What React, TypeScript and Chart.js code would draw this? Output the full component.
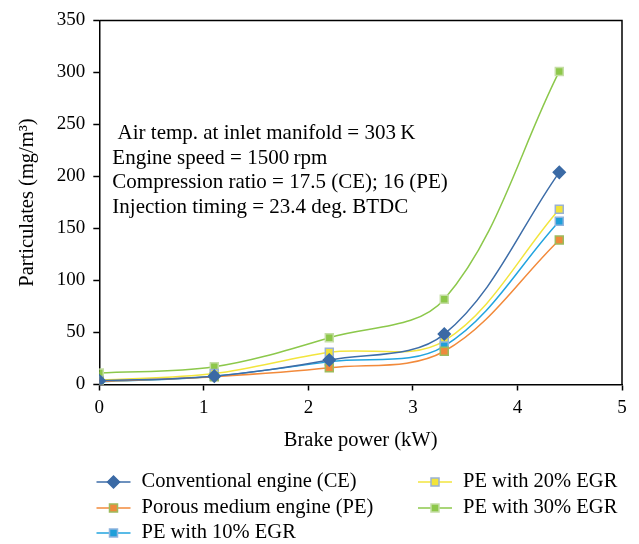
import React, { useEffect, useRef } from "react";
import { Chart, registerables } from "chart.js";

Chart.register(...registerables);

// ---- data ----
const brakePower = [0, 1.1, 2.2, 3.3, 4.4];
const seriesNames = [
  "Conventional engine (CE)",
  "Porous medium engine (PE)",
  "PE with 10% EGR",
  "PE with 20% EGR",
  "PE with 30% EGR",
];
const ceValues = [3.5, 8, 23.5, 48.5, 204];
const peValues = [3, 7.5, 16, 32, 139];
const egr10Values = [2.5, 8, 22, 37, 157];
const egr20Values = [4, 10.5, 31, 42, 168.5];
const egr30Values = [11, 17, 45, 82, 301];
const xTickValues = [0, 1, 2, 3, 4, 5];
const yTickValues = [0, 50, 100, 150, 200, 250, 300, 350];
const noteLines = [
  " Air temp. at inlet manifold = 303\u2009K",
  "Engine speed = 1500\u2009rpm",
  "Compression ratio = 17.5 (CE); 16 (PE)",
  "Injection timing = 23.4 deg. BTDC",
];
const xTitle = "Brake power (kW)";
const yTitle = "Particulates (mg/m\u00B3)";

const FONT = "'Liberation Serif', 'Times New Roman', serif";

const styles = [
  { line: "#3d6da8", fill: "#3b6aa5", border: "#3b6aa5", shape: "diamond" },
  { line: "#f28a3b", fill: "#ee8a3c", border: "#9dbb5c", shape: "rect" },
  { line: "#22a4df", fill: "#1f9fd9", border: "#8fb4de", shape: "rect" },
  { line: "#f2e53e", fill: "#f2e43a", border: "#9ab2d4", shape: "rect" },
  { line: "#8cc84b", fill: "#8dc74a", border: "#c5dea5", shape: "rect" },
];

const allValues = [ceValues, peValues, egr10Values, egr20Values, egr30Values];

function drawMarker(ctx: CanvasRenderingContext2D, shape: string, x: number, y: number, fill: string, border: string) {
  ctx.save();
  ctx.fillStyle = fill;
  ctx.strokeStyle = border;
  ctx.lineWidth = 1.5;
  ctx.beginPath();
  if (shape === "diamond") {
    const r = 6;
    ctx.moveTo(x - r, y);
    ctx.lineTo(x, y - r);
    ctx.lineTo(x + r, y);
    ctx.lineTo(x, y + r);
    ctx.closePath();
  } else {
    const s = 4;
    ctx.rect(x - s, y - s, 2 * s, 2 * s);
  }
  ctx.fill();
  ctx.stroke();
  ctx.restore();
}

const extrasPlugin = {
  id: "extras",
  afterDraw(chart: any) {
    const ctx: CanvasRenderingContext2D = chart.ctx;
    const a = chart.chartArea;
    ctx.save();
    // top & right border
    ctx.strokeStyle = "#000";
    ctx.lineWidth = 1.5;
    ctx.beginPath();
    ctx.moveTo(a.left, a.top);
    ctx.lineTo(a.right, a.top);
    ctx.lineTo(a.right, a.bottom);
    ctx.stroke();

    // annotation text
    ctx.fillStyle = "#000";
    ctx.font = `21px ${FONT}`;
    ctx.textBaseline = "middle";
    ctx.textAlign = "left";
    noteLines.forEach((t, i) => {
      ctx.fillText(t, a.left + 13, 133.5 + i * 24.6);
    });

    // legend
    const cols = [96.5, 418];
    const rows = [482, 508, 533];
    seriesNames.forEach((name, i) => {
      const col = i < 3 ? 0 : 1;
      const row = i < 3 ? i : i - 3;
      const x0 = cols[col];
      const y = rows[row];
      const st = styles[i];
      ctx.strokeStyle = st.line;
      ctx.lineWidth = 1.5;
      ctx.beginPath();
      ctx.moveTo(x0, y);
      ctx.lineTo(x0 + 34, y);
      ctx.stroke();
      drawMarker(ctx, st.shape, x0 + 17, y, st.fill, st.border);
      ctx.fillStyle = "#000";
      ctx.font = `20.5px ${FONT}`;
      ctx.textBaseline = "middle";
      ctx.textAlign = "left";
      ctx.fillText(name, x0 + 45, y);
    });
    ctx.restore();
  },
};

export default function App() {
  const ref = useRef<HTMLCanvasElement | null>(null);
  useEffect(() => {
    if (!ref.current) return;
    const datasets = allValues.map((vals, i) => ({
      label: seriesNames[i],
      data: brakePower.map((x, j) => ({ x, y: vals[j] })),
      borderColor: styles[i].line,
      backgroundColor: styles[i].fill,
      pointBackgroundColor: styles[i].fill,
      pointBorderColor: styles[i].border,
      pointBorderWidth: 1.5,
      pointStyle: styles[i].shape === "diamond" ? "rectRot" : "rect",
      pointRadius: styles[i].shape === "diamond" ? 6 : 5.6,
      borderWidth: 1.5,
      tension: 0.35,
      fill: false,
    }));
    const chart = new Chart(ref.current, {
      type: "line",
      data: { datasets },
      plugins: [extrasPlugin],
      options: {
        animation: false,
        responsive: false,
        devicePixelRatio: 1,
        layout: { padding: { top: 20.5, right: 17, bottom: 89.5, left: 0 } },
        plugins: { legend: { display: false }, tooltip: { enabled: false } },
        scales: {
          x: {
            type: "linear",
            min: 0,
            max: 5,
            afterFit: (s: any) => { s.height = 70; },
            afterBuildTicks: (s: any) => { s.ticks = xTickValues.map((v) => ({ value: v })); },
            ticks: { color: "#000", font: { family: FONT, size: 19 }, padding: 6 },
            grid: { drawOnChartArea: false, drawTicks: true, tickLength: 6, color: "#000", tickColor: "#000", tickWidth: 1.5 },
            border: { display: true, color: "#000", width: 1.5 },
            title: { display: true, text: xTitle, color: "#000", font: { family: FONT, size: 20.5 }, padding: { top: 2, bottom: 2 } },
          },
          y: {
            type: "linear",
            min: 0,
            max: 350,
            afterFit: (s: any) => { s.width = 99.3; },
            afterBuildTicks: (s: any) => { s.ticks = yTickValues.map((v) => ({ value: v })); },
            ticks: { color: "#000", font: { family: FONT, size: 19 }, padding: 8 },
            grid: { drawOnChartArea: false, drawTicks: true, tickLength: 6, color: "#000", tickColor: "#000", tickWidth: 1.5 },
            border: { display: true, color: "#000", width: 1.5 },
            title: { display: true, text: yTitle, color: "#000", font: { family: FONT, size: 20.5 }, padding: { top: 15.5, bottom: 0 } },
          },
        },
      },
    } as any);
    return () => chart.destroy();
  }, []);
  return (
    <div style={{ position: "absolute", left: 0, top: 0, width: 639, height: 544, background: "#fff" }}>
      <canvas ref={ref} width={639} height={544} />
    </div>
  );
}
